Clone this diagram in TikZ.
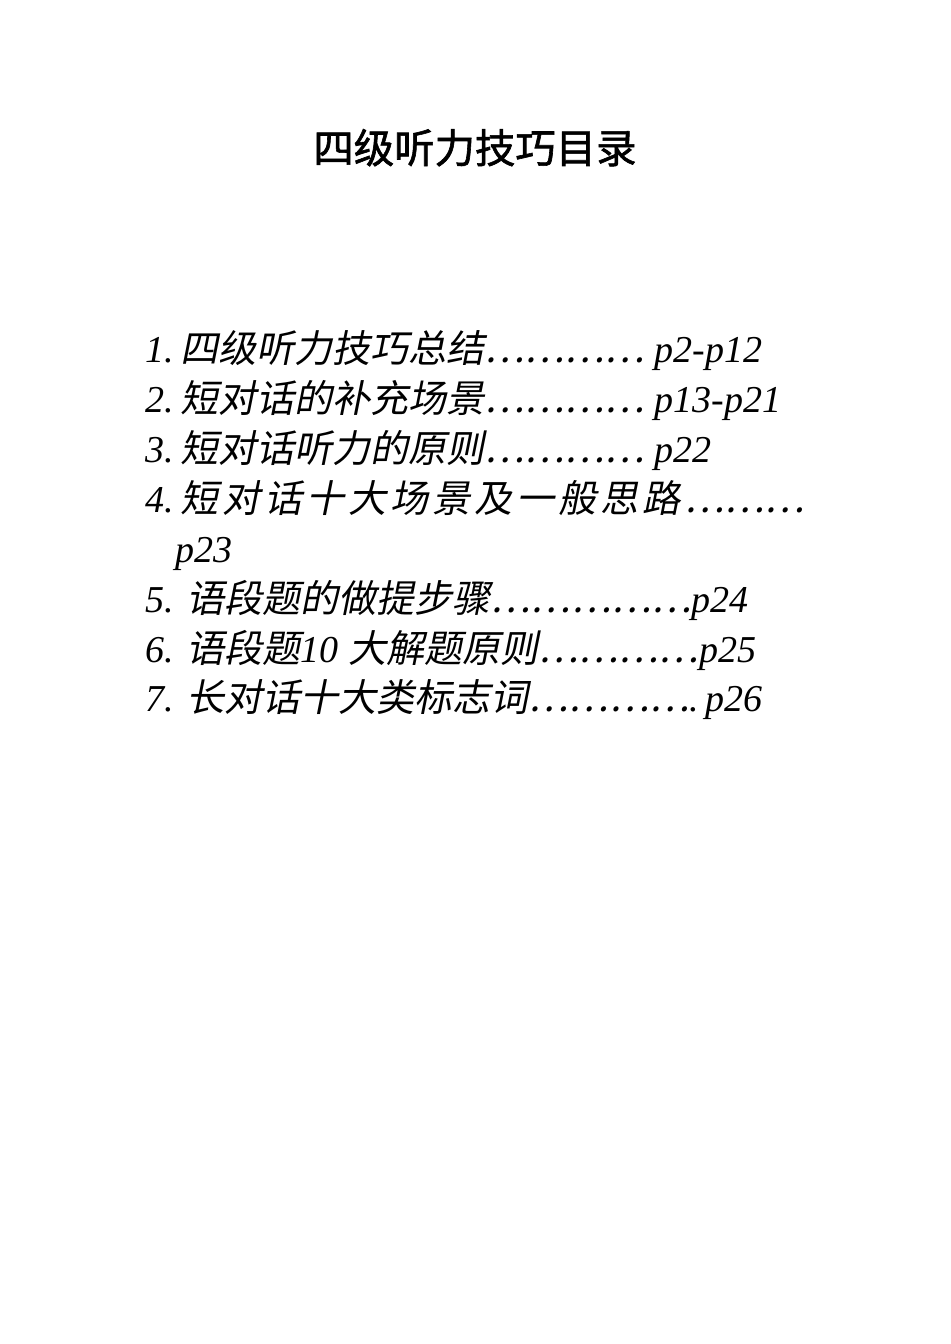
\documentclass[tikz,border=0pt]{standalone}
\usepackage{fontspec}
\setmainfont{Liberation Serif}
\newfontfamily\cjkf[FakeSlant=0.2,Scale=1.0]{Noto Sans CJK SC}
\newcommand\cjk{\cjkf}
\newcommand\gp{\hspace{2pt}}
\newfontfamily\cjkb[FakeBold=1.5]{Noto Sans CJK SC}
\begin{document}
\begin{tikzpicture}[x=0.5pt,y=-0.5pt,
  item/.style={anchor=base west,inner sep=0pt,font=\fontsize{19}{22}\selectfont\itshape}]
\useasboundingbox (0,0) rectangle (950,1344);
\node[anchor=base,inner sep=0pt,font=\fontsize{20.2}{22}\selectfont] (title) at (475,163) {\cjkb 四级听力技巧目录};
\node[item] (i1) at (145,362) {1.\,{\cjk 四级听力技巧总结…………} p2-p12};
\node[item] (i2) at (145,412) {2.\,{\cjk 短对话的补充场景…………} p13-p21};
\node[item] (i3) at (145,462) {3.\,{\cjk 短对话听力的原则…………} p22};
\node[item] (i4) at (145,512) {4.\,{\cjk 短\gp 对\gp 话\gp 十\gp 大\gp 场\gp 景\gp 及\gp 一\gp 般\gp 思\gp 路\gp ………}};
\node[item] (i4b) at (175,562) {p23};
\node[item] (i5) at (145,612) {5. {\cjk 语段题的做提步骤……………}p24};
\node[item] (i6) at (145,662) {6. {\cjk 语段题}10 {\cjk 大解题原则…………}p25};
\node[item] (i7) at (145,711) {7. {\cjk 长对话十大类标志词…………}.\,p26};
\end{tikzpicture}
\end{document}
